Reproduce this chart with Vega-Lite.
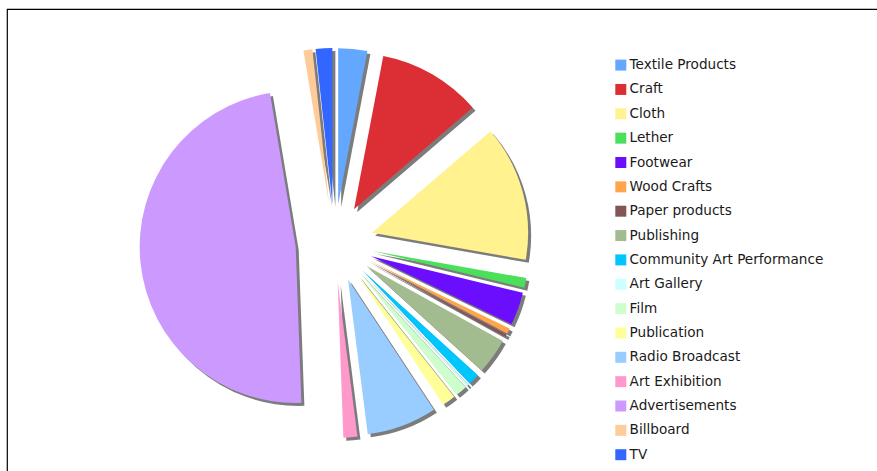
{
  "$schema": "https://vega.github.io/schema/vega-lite/v6.json",
  "autosize": "none",
  "padding": {"left": 7, "top": 9, "right": 0, "bottom": 0},
  "width": 871,
  "height": 463,
  "background": "white",
  "config": {
    "view": {"stroke": "#000000", "strokeWidth": 1.2},
    "font": "DejaVu Sans"
  },
  "data": {
    "values": [
      {"category": "Textile Products", "value": 3.0},
      {"category": "Craft", "value": 10.72},
      {"category": "Cloth", "value": 14.06},
      {"category": "Lether", "value": 1.0},
      {"category": "Footwear", "value": 3.4},
      {"category": "Wood Crafts", "value": 0.55},
      {"category": "Paper products", "value": 0.3},
      {"category": "Publishing", "value": 3.7},
      {"category": "Community Art Performance", "value": 1.2},
      {"category": "Art Gallery", "value": 0.2},
      {"category": "Film", "value": 1.2},
      {"category": "Publication", "value": 1.4},
      {"category": "Radio Broadcast", "value": 7.25},
      {"category": "Art Exhibition", "value": 1.44},
      {"category": "Advertisements", "value": 47.94},
      {"category": "Billboard", "value": 0.92},
      {"category": "TV", "value": 1.72}
    ]
  },
  "transform": [
    {"window": [{"op": "sum", "field": "value", "as": "cum"}], "frame": [null, 0]},
    {"joinaggregate": [{"op": "sum", "field": "value", "as": "total"}]},
    {"calculate": "datum.cum - datum.value", "as": "start"},
    {"calculate": "(datum.cum - datum.value / 2) / datum.total * 2 * PI", "as": "mid"},
    {"calculate": "sin(datum.mid)", "as": "ex"},
    {"calculate": "cos(datum.mid)", "as": "ey"}
  ],
  "encoding": {
    "theta": {"field": "start", "type": "quantitative", "stack": null, "scale": {"domain": [0, 100]}},
    "theta2": {"field": "cum"},
    "x": {"field": "ex", "type": "quantitative", "axis": null, "scale": {"domain": [-1, 1], "range": [288.5, 366.5], "zero": false, "nice": false}},
    "y": {"field": "ey", "type": "quantitative", "axis": null, "scale": {"domain": [-1, 1], "range": [273, 195], "zero": false, "nice": false}}
  },
  "layer": [
    {
      "mark": {"type": "arc", "outerRadius": 156, "color": "#7c7c7c", "xOffset": 3, "yOffset": 3}
    },
    {
      "mark": {"type": "arc", "outerRadius": 156},
      "encoding": {
        "color": {
          "field": "category",
          "type": "nominal",
          "scale": {
            "domain": ["Textile Products", "Craft", "Cloth", "Lether", "Footwear", "Wood Crafts", "Paper products", "Publishing", "Community Art Performance", "Art Gallery", "Film", "Publication", "Radio Broadcast", "Art Exhibition", "Advertisements", "Billboard", "TV"],
            "range": ["#63a8fe", "#dc2f35", "#fff28f", "#4ce05a", "#6b0efe", "#ffa64d", "#845556", "#a2bc90", "#00c6ff", "#ccffff", "#ccffcc", "#ffff99", "#99ccff", "#ff99cc", "#cc99ff", "#ffcc99", "#3366ff"]
          },
          "legend": {
            "title": null,
            "orient": "none",
            "legendX": 607,
            "legendY": 49.3,
            "padding": 0,
            "symbolType": "square",
            "symbolSize": 121,
            "symbolStrokeWidth": 0,
            "symbolOpacity": 1,
            "labelFont": "DejaVu Sans",
            "labelFontSize": 13.6,
            "labelColor": "#1a1a1a",
            "labelOffset": 2,
            "labelLimit": 400,
            "rowPadding": 9.35
          }
        }
      }
    }
  ]
}
